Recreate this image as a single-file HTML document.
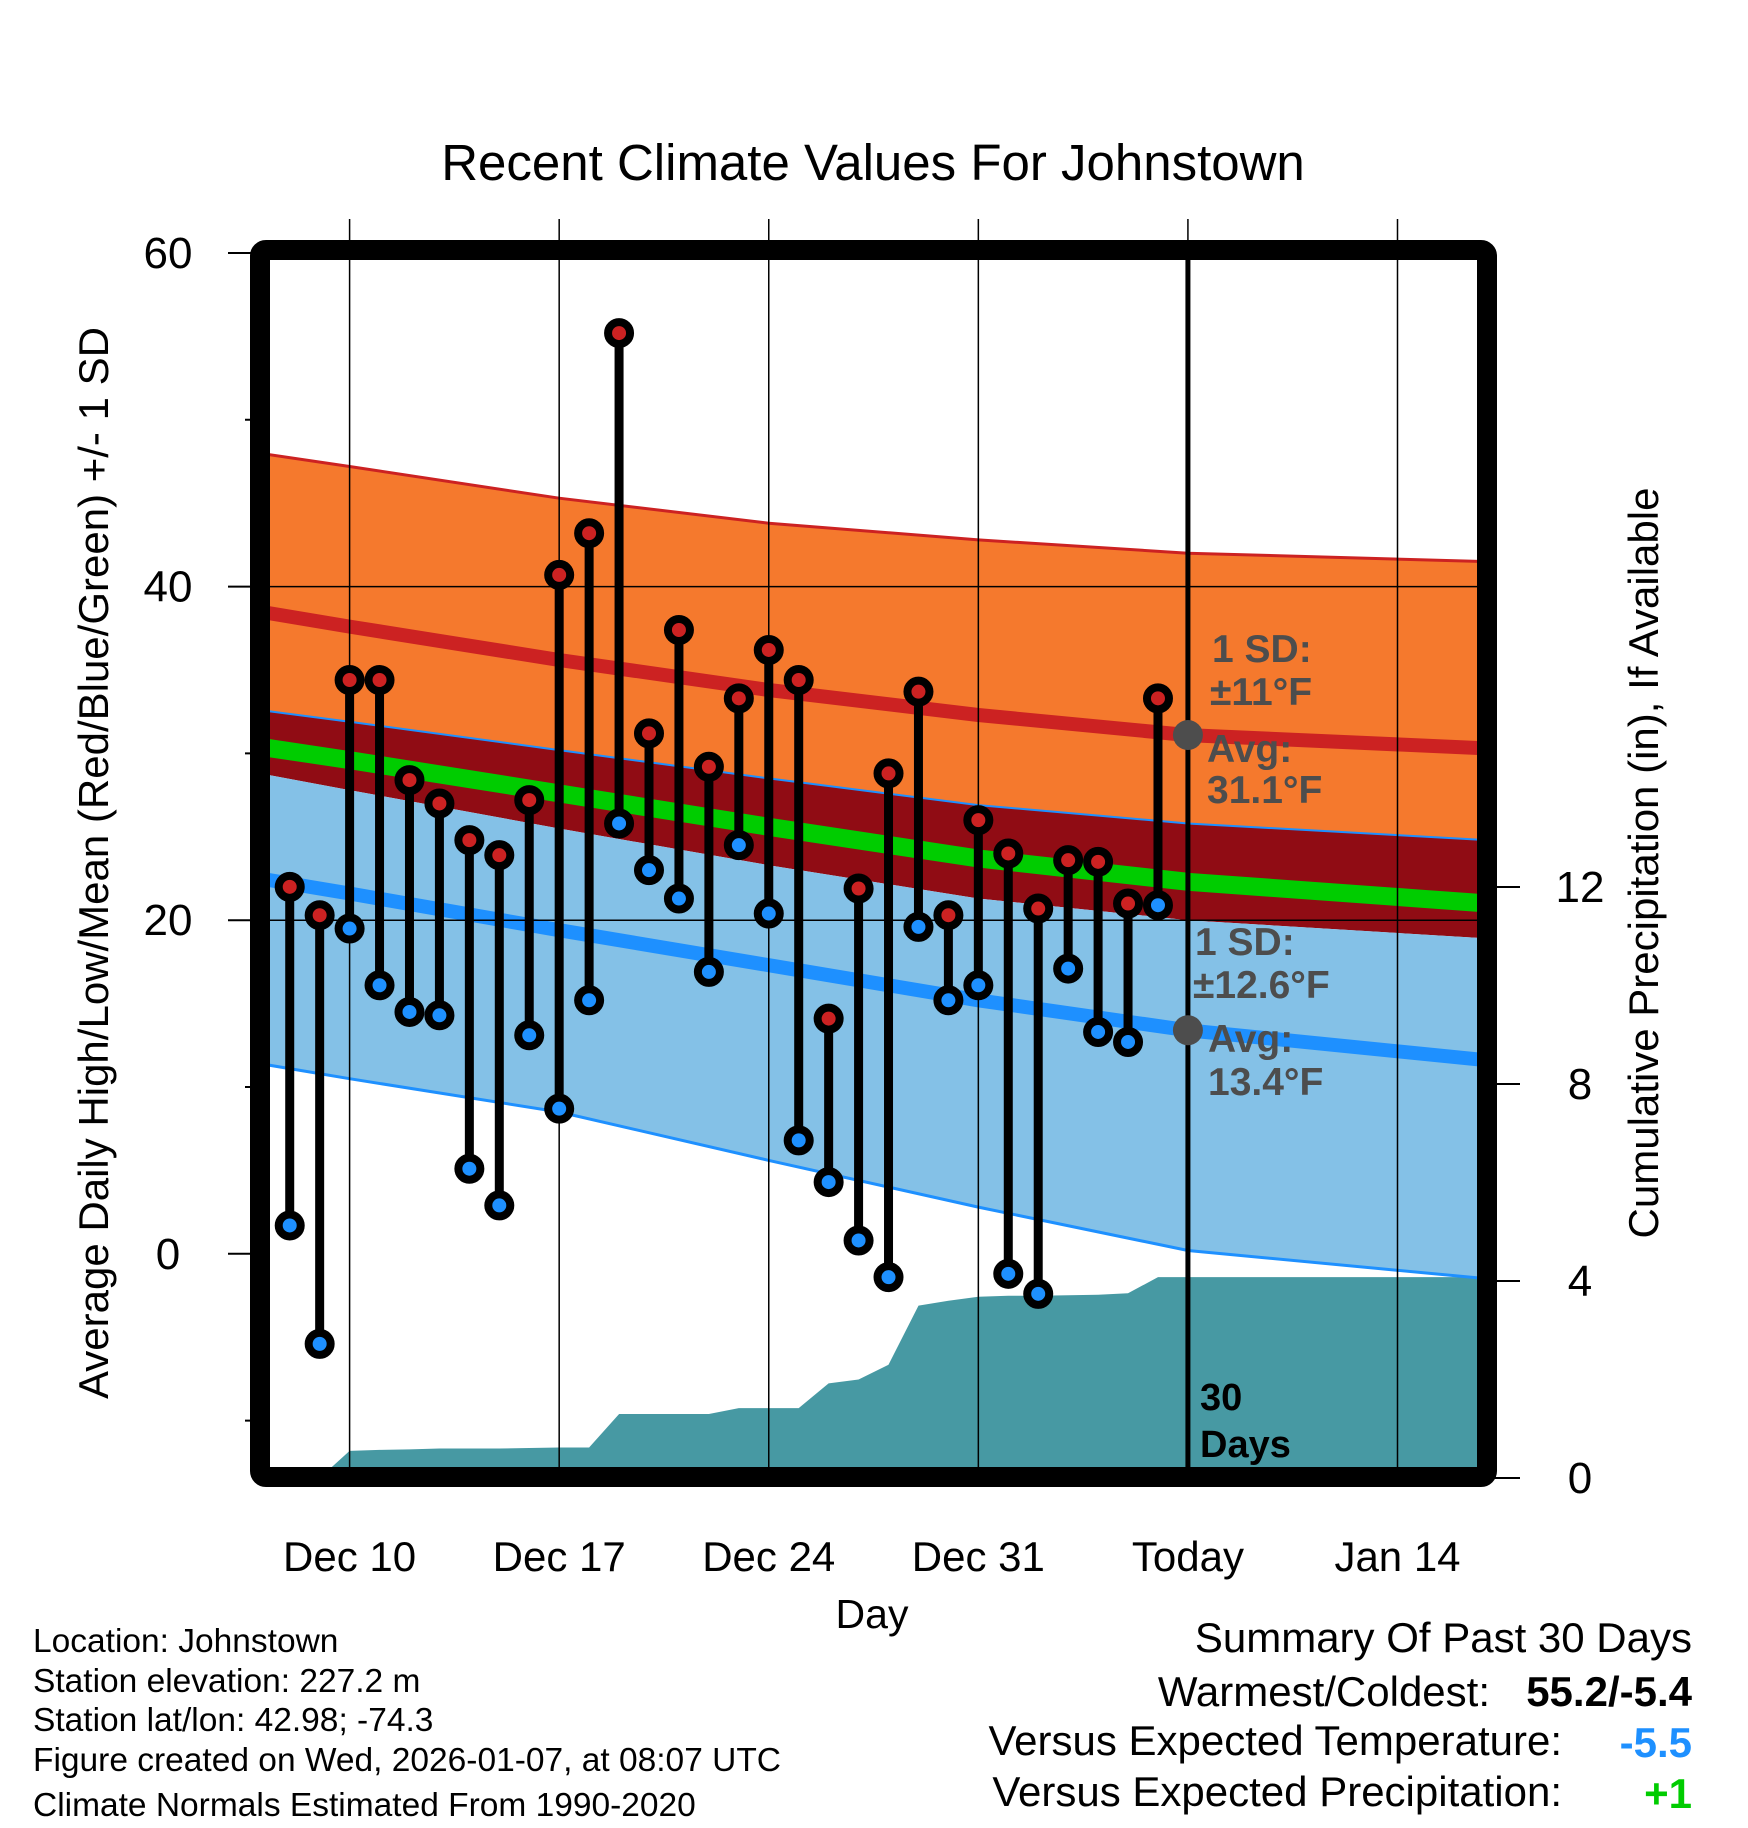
<!DOCTYPE html>
<html><head><meta charset="utf-8"><style>
html,body{margin:0;padding:0;background:#fff}
svg{display:block;font-family:"Liberation Sans",Arial,sans-serif}
</style></head><body>
<svg id="chart" width="1748" height="1828" viewBox="0 0 1748 1828" xmlns="http://www.w3.org/2000/svg">
<defs><clipPath id="plotclip"><rect x="270" y="260" width="1208" height="1208"/></clipPath></defs>
<g id="bands" clip-path="url(#plotclip)"></g>
<g id="grid"></g>
<g id="marks" clip-path="url(#plotclip)"></g>
<rect x="260" y="250" width="1227" height="1227" fill="none" stroke="#000" stroke-width="20" rx="6"/>
<g id="axes"></g>
<text x="873" y="180" font-size="51" text-anchor="middle">Recent Climate Values For Johnstown</text>
<text transform="translate(108,863) rotate(-90)" font-size="42" text-anchor="middle">Average Daily High/Low/Mean (Red/Blue/Green) +/- 1 SD</text>
<text transform="translate(1658,863) rotate(-90)" font-size="42" text-anchor="middle">Cumulative Precipitation (in), If Available</text>
<text x="872" y="1628" font-size="41" text-anchor="middle">Day</text>
<g font-size="33.5">
<text x="33" y="1652">Location: Johnstown</text>
<text x="33" y="1692">Station elevation: 227.2 m</text>
<text x="33" y="1731">Station lat/lon: 42.98; -74.3</text>
<text x="33" y="1771">Figure created on Wed, 2026-01-07, at 08:07 UTC</text>
<text x="33" y="1816">Climate Normals Estimated From 1990-2020</text>
</g>
<g font-size="42">
<text x="1692" y="1652" text-anchor="end">Summary Of Past 30 Days</text>
<text x="1490" y="1706" text-anchor="end">Warmest/Coldest:</text>
<text x="1692" y="1706" text-anchor="end" font-weight="bold">55.2/-5.4</text>
<text x="1562" y="1755" text-anchor="end">Versus Expected Temperature:</text>
<text x="1692" y="1757" text-anchor="end" font-weight="bold" fill="#1e90ff">-5.5</text>
<text x="1562" y="1806" text-anchor="end">Versus Expected Precipitation:</text>
<text x="1692" y="1808" text-anchor="end" font-weight="bold" fill="#00cc00">+1</text>
</g>
</svg>
<script>
// normals, knot days (Dec day numbers; Jan 1 = 32)
const normDays = [7, 10, 17, 24, 31, 38, 48];
const hiUpper = [48.0, 47.2, 45.3, 43.8, 42.8, 42.0, 41.5];
const hiMean = [38.5, 37.6, 35.6, 33.8, 32.3, 31.1, 30.3];
const hiLower = [32.6, 31.9, 30.2, 28.5, 26.9, 25.8, 24.8];
const avgMean = [30.4, 29.6, 27.6, 25.6, 23.7, 22.3, 21.0];
const loUpper = [28.8, 27.8, 25.5, 23.3, 21.3, 20.0, 18.9];
const loMean = [22.5, 21.6, 19.4, 17.3, 15.2, 13.4, 11.6];
const loLower = [11.4, 10.5, 8.5, 5.6, 2.8, 0.2, -1.5];
// observed
const obsDays = [8,9,10,11,12,13,14,15,16,17,18,19,20,21,22,23,24,25,26,27,28,29,30,31,32,33,34,35,36,37];
const highs = [22.0,20.3,34.4,34.4,28.4,27.0,24.8,23.9,27.2,40.7,43.2,55.2,31.2,37.4,29.2,33.3,36.2,34.4,14.1,21.9,28.8,33.7,20.3,26.0,24.0,20.7,23.6,23.5,21.0,33.3];
const lows = [1.7,-5.4,19.5,16.1,14.5,14.3,5.1,2.9,13.1,8.7,15.2,25.8,23.0,21.3,16.9,24.5,20.4,6.8,4.3,0.8,-1.4,19.6,15.2,16.1,-1.2,-2.4,17.1,13.3,12.7,20.9];
const precip = [0,0,0.55,0.57,0.58,0.6,0.6,0.6,0.61,0.62,0.62,1.3,1.3,1.3,1.3,1.42,1.42,1.42,1.92,2.0,2.3,3.5,3.6,3.68,3.7,3.7,3.71,3.72,3.75,4.08];
const xTicks = [10,17,24,31,38,45];
const xTickLabels = ["Dec 10","Dec 17","Dec 24","Dec 31","Today","Jan 14"];
const yTicks = [60,40,20,0];
const yMinor = [50,30,10,-10];
const pTicks = [0,4,8,12];

const NS="http://www.w3.org/2000/svg";
const xS=d=>349.6+(d-10)*29.94;
const yT=v=>253+(60-v)*16.68;
const yP=p=>1478-p*49.25;
function mk(tag,attrs,parent){const e=document.createElementNS(NS,tag);for(const k in attrs)e.setAttribute(k,attrs[k]);parent.appendChild(e);return e;}
function pts(arr){return normDays.map((d,i)=>xS(d).toFixed(1)+","+yT(arr[i]).toFixed(1));}
function band(a,b){return "M"+pts(a).join(" L")+" L"+pts(b).reverse().join(" L")+" Z";}
const bands=document.getElementById('bands');
let e;
e=mk('path',{d:band(hiUpper,hiLower),fill:'#f5792d'},bands);


e=mk('path',{d:band(hiLower,loUpper),fill:'#900c14'},bands);


e=mk('path',{d:band(loUpper,loLower),fill:'#84c1e7'},bands);


let pd="M"+xS(obsDays[0])+","+yP(0);
obsDays.forEach((d,i)=>{pd+=" L"+xS(d).toFixed(1)+","+yP(precip[i]).toFixed(1);});
pd+=" L1490,"+yP(precip[precip.length-1]).toFixed(1)+" L1490,1480 L"+xS(obsDays[0])+",1480 Z";
e=mk('path',{d:pd,fill:'#4799a3'},bands);


e=mk('polyline',{points:pts(hiUpper).join(" "),fill:'none',stroke:'#cc2222',"stroke-width":3},bands);


e=mk('polyline',{points:pts(hiLower).join(" "),fill:'none',stroke:'#1e90ff',"stroke-width":2},bands);


e=mk('polyline',{points:pts(loLower).join(" "),fill:'none',stroke:'#1e90ff',"stroke-width":3},bands);


e=mk('polyline',{points:pts(hiMean).join(" "),fill:'none',stroke:'#cc2222',"stroke-width":14},bands);


e=mk('polyline',{points:pts(avgMean).join(" "),fill:'none',stroke:'#00cc00',"stroke-width":18},bands);


e=mk('polyline',{points:pts(loMean).join(" "),fill:'none',stroke:'#1e90ff',"stroke-width":14},bands);



const grid=document.getElementById('grid');
xTicks.forEach((d,i)=>{
  e=mk('line',{x1:xS(d),x2:xS(d),y1:219,y2:1478,stroke:'#000',"stroke-width":1.5},grid);
  
  
});
[20,40].forEach(v=>{
  e=mk('line',{x1:270,x2:1478,y1:yT(v),y2:yT(v),stroke:'#000',"stroke-width":1.5},grid);
  
  
});
e=mk('line',{x1:xS(38),x2:xS(38),y1:255,y2:1475,stroke:'#000',"stroke-width":5},grid);



const marks=document.getElementById('marks');
obsDays.forEach((d,i)=>{
  const x=xS(d);
  e=mk('line',{x1:x,x2:x,y1:yT(highs[i]),y2:yT(lows[i]),stroke:'#000',"stroke-width":9},marks);
  
  
});
obsDays.forEach((d,i)=>{
  const x=xS(d);
  e=mk('circle',{cx:x,cy:yT(highs[i]),r:11,fill:'#cc2222',stroke:'#000',"stroke-width":8},marks);
  
  
  e=mk('circle',{cx:x,cy:yT(lows[i]),r:11,fill:'#1e90ff',stroke:'#000',"stroke-width":8},marks);
  
  
});
e=mk('circle',{cx:xS(38),cy:yT(31.1),r:15,fill:'#4d4d4d'},marks);


e=mk('circle',{cx:xS(38),cy:yT(13.4),r:15,fill:'#4d4d4d'},marks);


const ann=[["1 SD:",1212,662],["±11°F",1210,705],["Avg:",1207,762],["31.1°F",1207,803],["1 SD:",1195,955],["±12.6°F",1193,998],["Avg:",1208,1052],["13.4°F",1208,1095]];
ann.forEach(a=>{
  e=mk('text',{x:a[1],y:a[2],"font-size":39,"font-weight":"bold",fill:'#4d4d4d'},marks);
  e.textContent=a[0];
  
  
});
e=mk('text',{x:1200,y:1410,"font-size":38,"font-weight":"bold",fill:'#000'},marks);
e.textContent="30";


e=mk('text',{x:1200,y:1457,"font-size":38,"font-weight":"bold",fill:'#000'},marks);
e.textContent="Days";



const axes=document.getElementById('axes');
yTicks.forEach(v=>{
  e=mk('line',{x1:228,x2:262,y1:yT(v),y2:yT(v),stroke:'#000',"stroke-width":2},axes);
  
  
  e=mk('text',{x:168,y:yT(v)+15,"font-size":44,"text-anchor":"middle"},axes);
  e.textContent=String(v);
  
  
});
yMinor.forEach(v=>{
  e=mk('line',{x1:245,x2:262,y1:yT(v),y2:yT(v),stroke:'#000',"stroke-width":2},axes);
  
  
});
pTicks.forEach(p=>{
  e=mk('line',{x1:1487,x2:1520,y1:yP(p),y2:yP(p),stroke:'#000',"stroke-width":2},axes);
  
  
  e=mk('text',{x:1580,y:yP(p)+15,"font-size":44,"text-anchor":"middle"},axes);
  e.textContent=String(p);
  
  
});
xTicks.forEach((d,i)=>{
  e=mk('text',{x:xS(d),y:1571,"font-size":42,"text-anchor":"middle"},axes);
  e.textContent=xTickLabels[i];
  
  
});
</script>
</body></html>
